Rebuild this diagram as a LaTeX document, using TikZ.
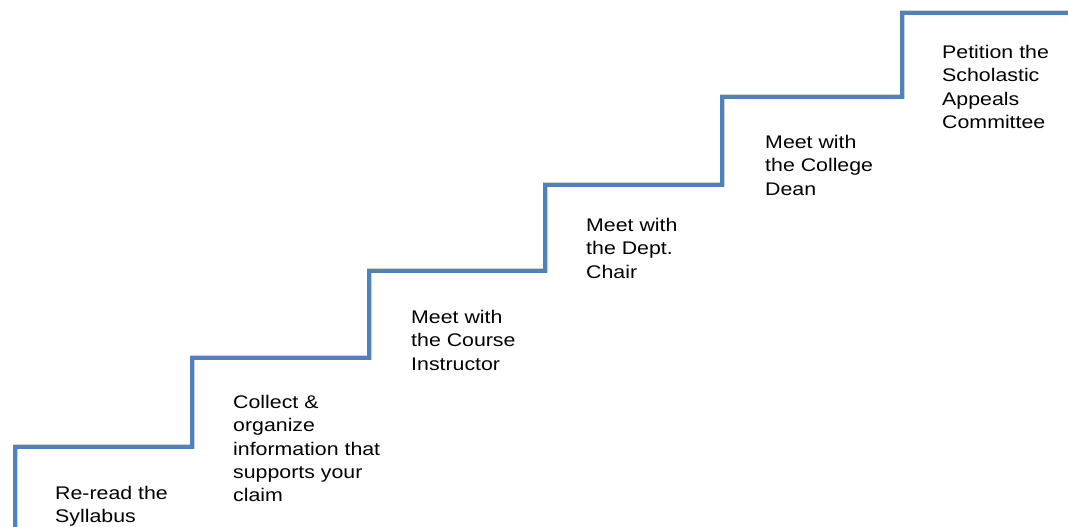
\documentclass[tikz,border=0pt]{standalone}
\usepackage{fontspec}
\setmainfont{Liberation Sans}
\definecolor{stairblue}{RGB}{79,129,189}
\begin{document}
\begin{tikzpicture}[x=1pt,y=1pt,
  stairline/.style={draw=stairblue,line width=4.8pt,line join=miter},
  stairshadow/.style={draw=black,opacity=0.18,line width=5pt,line join=miter},
  steplabel/.style={anchor=north west,inner sep=0pt,align=left,
    font=\fontsize{18.3}{23.3}\selectfont,xscale=1.165,transform shape}]
\useasboundingbox (0,0) rectangle (1068,527);
\coordinate (s0) at (15,0);
\coordinate (c1) at (15,80);
\coordinate (c2) at (192,80);
\coordinate (c3) at (192,169);
\coordinate (c4) at (369,169);
\coordinate (c5) at (369,256);
\coordinate (c6) at (545,256);
\coordinate (c7) at (545,342);
\coordinate (c8) at (722,342);
\coordinate (c9) at (722,430);
\coordinate (c10) at (902,430);
\coordinate (c11) at (902,514);
\coordinate (e) at (1068,514);
\begin{scope}[shift={(1.5,-1.5)}]
\draw[stairshadow] (s0) -- (c1) -- (c2) -- (c3) -- (c4) -- (c5) -- (c6) -- (c7) -- (c8) -- (c9) -- (c10) -- (c11) -- (e);
\end{scope}
\draw[stairline] (s0) -- (c1) -- (c2) -- (c3) -- (c4) -- (c5) -- (c6) -- (c7) -- (c8) -- (c9) -- (c10) -- (c11) -- (e);
\node[steplabel] (t1) at (55,41) {Re-read the\\Syllabus};
\node[steplabel] (t2) at (233,132) {Collect \&\\organize\\information that\\supports your\\claim};
\node[steplabel] (t3) at (411,217) {Meet with\\the Course\\Instructor};
\node[steplabel] (t4) at (586,309) {Meet with\\the Dept.\\Chair};
\node[steplabel] (t5) at (765,392) {Meet with\\the College\\Dean};
\node[steplabel] (t6) at (942,482) {Petition the\\Scholastic\\Appeals\\Committee};
\end{tikzpicture}
\end{document}
